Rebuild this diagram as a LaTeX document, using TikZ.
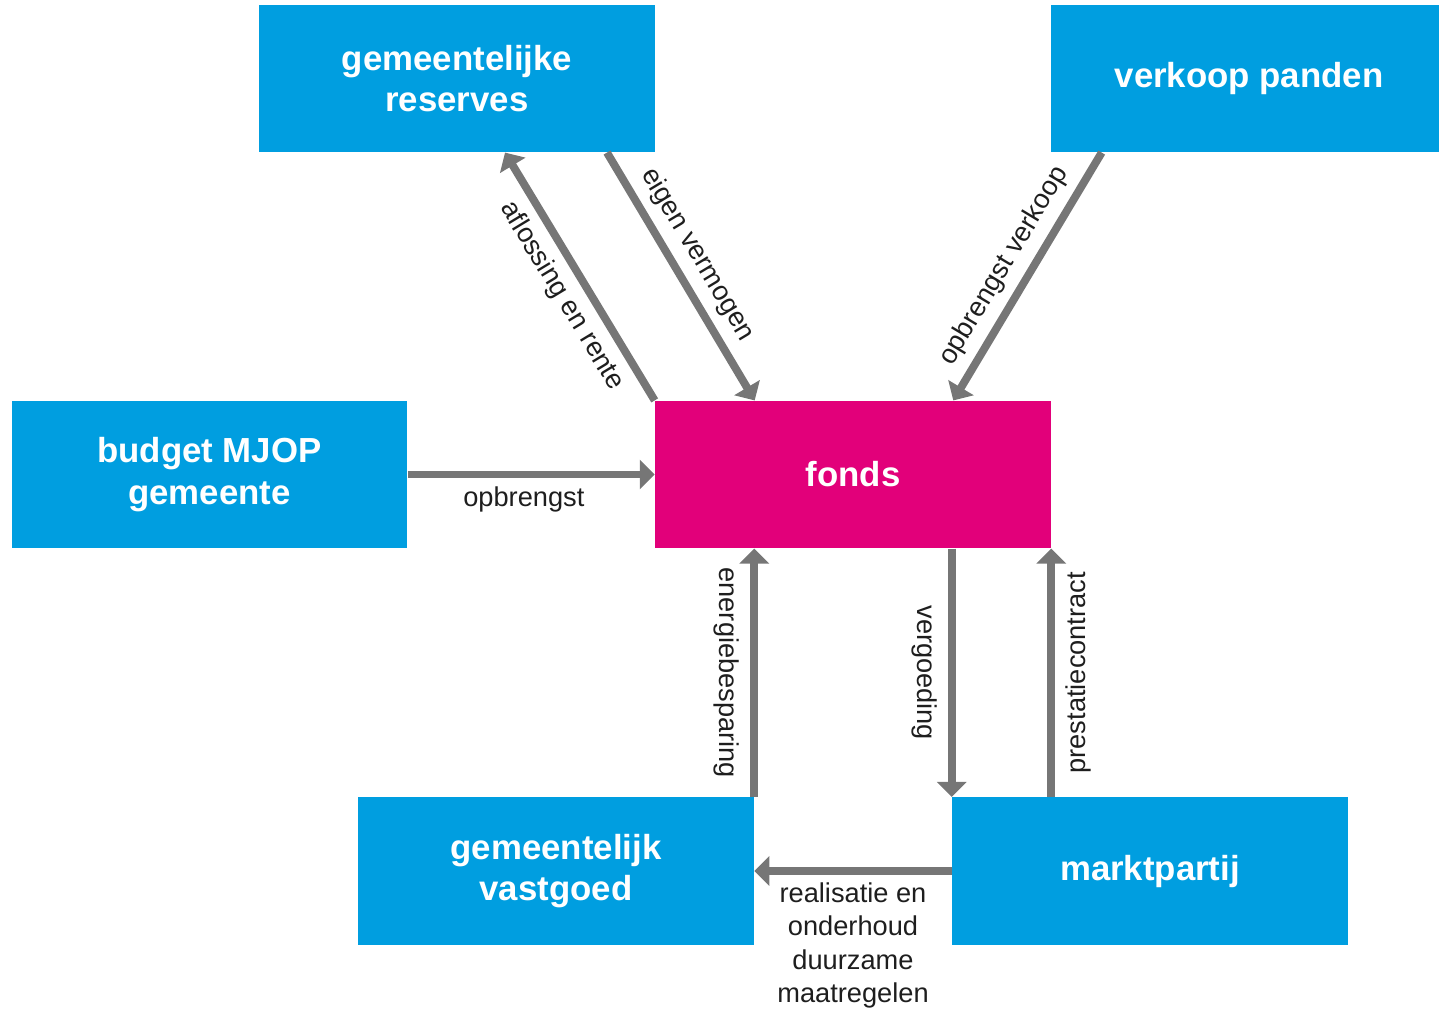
\documentclass[tikz,border=0pt]{standalone}
\usepackage{fontspec}
\setmainfont{Liberation Sans}
\usetikzlibrary{arrows.meta,calc}
\definecolor{boxblue}{RGB}{0,158,224}
\definecolor{fondsred}{RGB}{226,0,122}
\definecolor{flowgray}{RGB}{118,118,118}
\definecolor{labelgray}{RGB}{30,30,30}

\begin{document}
\begin{tikzpicture}[x=0.02cm, y=-0.02cm,
    box/.style={fill=boxblue, text=white, minimum width=7.92cm, minimum height=2.95cm,
      inner sep=0pt, align=center, font=\fontsize{19.8}{23.8}\selectfont\bfseries},
    flow/.style={draw=flowgray, line width=4.5pt, -{Triangle[length=8.5pt,width=16.5pt]}},
    lbl/.style={text=labelgray, font=\fontsize{15.5}{19}\selectfont, inner sep=5pt},
    diag/.style={lbl, inner sep=5pt}]
        \useasboundingbox (0,0) rectangle (1439,1008);
        \clip (0,0) rectangle (1439,1008);
        % boxes
        \node[box] (reserves) at (457,78.5) {gemeentelijke\\reserves};
        \node[box] (verkoop) at (1249,78.5) {verkoop panden};
        \node[box] (budget) at (209.5,474.5) {budget MJOP\\gemeente};
        \node[box, fill=fondsred] (fonds) at (853,474.5) {fonds};
        \node[box] (vastgoed) at (556,871) {gemeentelijk\\vastgoed};
        \node[box] (markt) at (1150,871) {marktpartij};
        % top flows
        \draw[flow] (fonds.north west) -- node[diag, pos=0.475, rotate=-58.8, anchor=north]
          {aflossing en rente} ($(reserves.south)+(48,0)$);
        \draw[flow] ($(reserves.south)+(150,0)$) -- node[diag, pos=0.465, rotate=-59, anchor=south]
          {eigen vermogen} ($(fonds.north west)+(100,0)$);
        \draw[flow] ($(verkoop.south west)+(51,0)$) -- node[diag, pos=0.51, rotate=59, anchor=south]
          {opbrengst verkoop} ($(fonds.north east)+(-98,0)$);
        % left flow
        \draw[flow] (budget.east) -- node[lbl, pos=0.47, anchor=north] {opbrengst} (fonds.west);
        % bottom flows
        \draw[flow] (vastgoed.north east) -- node[lbl, rotate=-90, anchor=north, inner sep=6.5pt]
          {energiebesparing} (vastgoed.north east |- fonds.south);
        \draw[flow] (markt.north west |- fonds.south) -- node[lbl, rotate=-90, anchor=north, inner sep=6pt]
          {vergoeding} (markt.north west);
        \draw[flow] (fonds.south east |- markt.north) -- node[lbl, rotate=90, anchor=north, inner sep=6pt]
          {prestatiecontract} (fonds.south east);
        \draw[flow] (markt.west) -- node[lbl, anchor=north, align=center, inner sep=4.5pt]
          {realisatie en\\onderhoud\\duurzame\\maatregelen} (vastgoed.east);
      \end{tikzpicture}
\end{document}
